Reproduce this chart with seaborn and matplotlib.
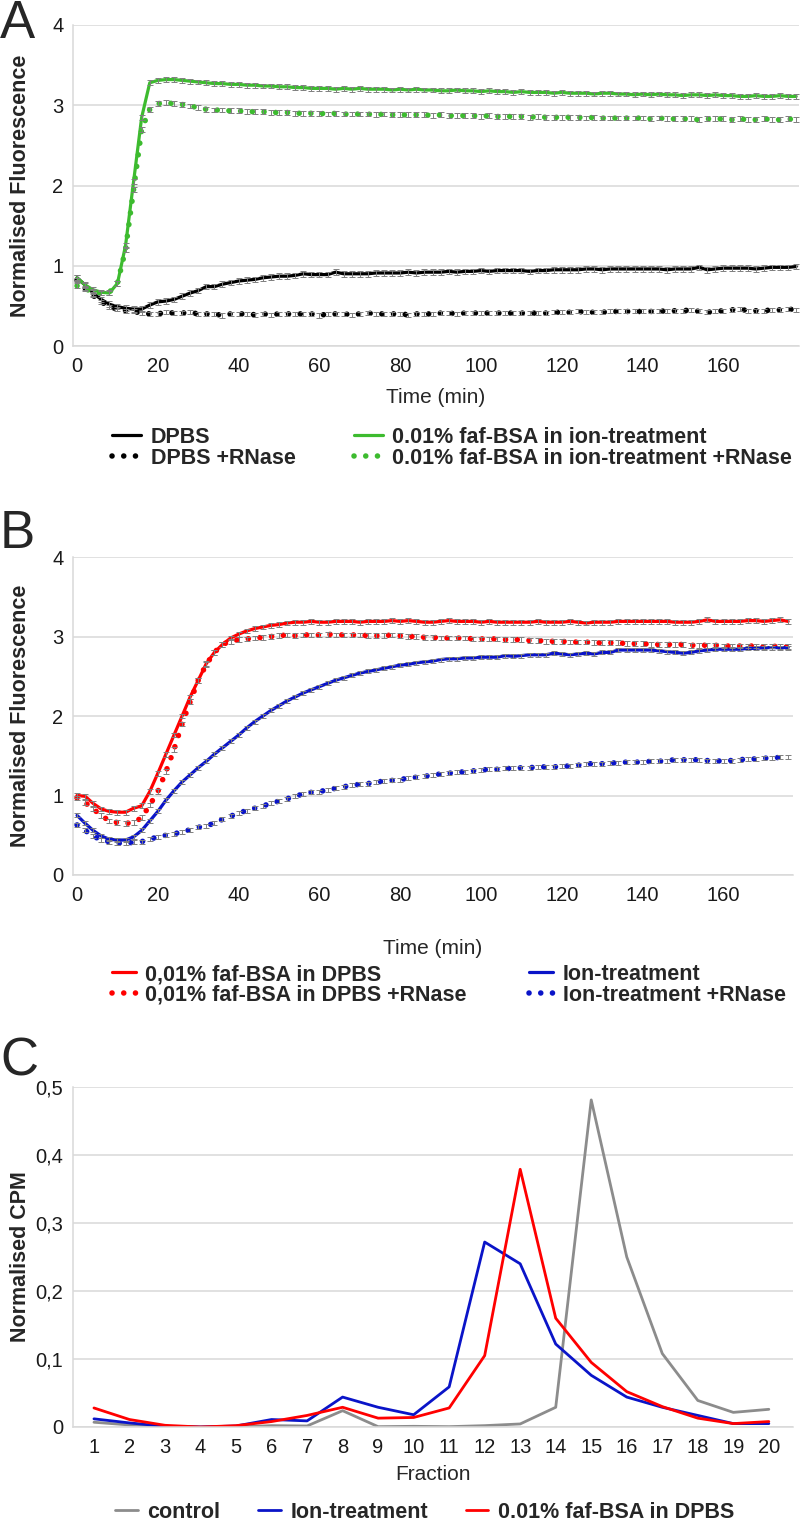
import matplotlib
matplotlib.use('Agg')
import matplotlib.pyplot as plt
import seaborn as sns

# time points (min), one reading every 2 min
time_a = list(range(0, 180, 2))
time_b = list(range(0, 178, 2))

# Panel A - normalised fluorescence
a_dpbs = [0.85, 0.76, 0.66, 0.58, 0.52, 0.49, 0.47, 0.46, 0.46, 0.51,
          0.55, 0.56, 0.58, 0.62, 0.66, 0.69, 0.74, 0.74, 0.77, 0.79,
          0.81, 0.82, 0.83, 0.85, 0.86, 0.87, 0.87, 0.88, 0.90, 0.89,
          0.89, 0.89, 0.92, 0.90, 0.90, 0.90, 0.90, 0.91, 0.91, 0.91,
          0.91, 0.92, 0.91, 0.92, 0.92, 0.92, 0.93, 0.92, 0.93, 0.93,
          0.94, 0.93, 0.94, 0.94, 0.94, 0.94, 0.93, 0.94, 0.94, 0.95,
          0.95, 0.95, 0.95, 0.96, 0.96, 0.95, 0.96, 0.96, 0.96, 0.96,
          0.96, 0.96, 0.96, 0.95, 0.96, 0.96, 0.96, 0.98, 0.95, 0.96,
          0.97, 0.97, 0.97, 0.97, 0.96, 0.97, 0.98, 0.98, 0.98, 0.99]
a_dpbs_rn = [0.82, 0.72, 0.63, 0.55, 0.49, 0.46, 0.44, 0.43, 0.41, 0.40,
             0.40, 0.42, 0.41, 0.41, 0.42, 0.40, 0.40, 0.40, 0.38, 0.40,
             0.40, 0.40, 0.39, 0.40, 0.39, 0.40, 0.40, 0.40, 0.40, 0.40,
             0.38, 0.40, 0.40, 0.40, 0.39, 0.40, 0.41, 0.40, 0.40, 0.40,
             0.40, 0.39, 0.40, 0.40, 0.40, 0.41, 0.41, 0.40, 0.41, 0.41,
             0.41, 0.41, 0.41, 0.41, 0.41, 0.41, 0.41, 0.41, 0.41, 0.42,
             0.42, 0.42, 0.43, 0.42, 0.42, 0.42, 0.43, 0.43, 0.43, 0.43,
             0.43, 0.43, 0.44, 0.43, 0.44, 0.44, 0.45, 0.43, 0.42, 0.43,
             0.44, 0.45, 0.46, 0.44, 0.44, 0.44, 0.45, 0.45, 0.46, 0.45]
a_bsa = [0.85, 0.76, 0.70, 0.67, 0.66, 0.78, 1.25, 2.05, 2.85, 3.28,
         3.31, 3.32, 3.32, 3.31, 3.30, 3.29, 3.28, 3.27, 3.27, 3.26,
         3.26, 3.25, 3.25, 3.24, 3.24, 3.23, 3.23, 3.22, 3.22, 3.21,
         3.21, 3.21, 3.20, 3.21, 3.20, 3.21, 3.20, 3.20, 3.20, 3.19,
         3.20, 3.19, 3.20, 3.19, 3.19, 3.18, 3.18, 3.19, 3.18, 3.18,
         3.17, 3.18, 3.17, 3.17, 3.16, 3.17, 3.16, 3.16, 3.16, 3.15,
         3.16, 3.15, 3.15, 3.15, 3.14, 3.15, 3.15, 3.14, 3.14, 3.13,
         3.14, 3.13, 3.14, 3.13, 3.13, 3.12, 3.13, 3.13, 3.12, 3.13,
         3.12, 3.12, 3.11, 3.11, 3.12, 3.11, 3.11, 3.12, 3.11, 3.11]
a_bsa_rn = [0.75, 0.71, 0.68, 0.66, 0.67, 0.78, 1.20, 1.95, 2.70, 2.95,
            3.02, 3.03, 3.02, 3.01, 2.99, 2.97, 2.95, 2.94, 2.94, 2.93,
            2.93, 2.92, 2.92, 2.92, 2.91, 2.91, 2.91, 2.90, 2.90, 2.90,
            2.90, 2.89, 2.90, 2.89, 2.89, 2.89, 2.89, 2.88, 2.89, 2.88,
            2.88, 2.88, 2.88, 2.88, 2.87, 2.88, 2.87, 2.87, 2.87, 2.87,
            2.86, 2.87, 2.86, 2.86, 2.86, 2.86, 2.85, 2.86, 2.85, 2.85,
            2.85, 2.85, 2.85, 2.84, 2.85, 2.84, 2.84, 2.84, 2.84, 2.84,
            2.84, 2.83, 2.84, 2.83, 2.83, 2.83, 2.83, 2.82, 2.83, 2.83,
            2.83, 2.82, 2.83, 2.82, 2.82, 2.83, 2.82, 2.82, 2.83, 2.82]

# Panel B - normalised fluorescence
b_bsa = [1.00, 0.99, 0.90, 0.83, 0.80, 0.79, 0.79, 0.84, 0.87, 1.05,
         1.28, 1.52, 1.76, 2.00, 2.24, 2.45, 2.66, 2.80, 2.90, 2.98,
         3.03, 3.07, 3.10, 3.12, 3.14, 3.15, 3.17, 3.18, 3.18, 3.19,
         3.18, 3.18, 3.19, 3.19, 3.19, 3.18, 3.19, 3.19, 3.19, 3.20,
         3.19, 3.20, 3.19, 3.18, 3.18, 3.19, 3.20, 3.19, 3.19, 3.19,
         3.18, 3.19, 3.18, 3.18, 3.18, 3.18, 3.18, 3.19, 3.18, 3.18,
         3.18, 3.19, 3.18, 3.17, 3.18, 3.18, 3.18, 3.19, 3.19, 3.19,
         3.19, 3.19, 3.19, 3.19, 3.18, 3.18, 3.18, 3.19, 3.21, 3.19,
         3.19, 3.19, 3.19, 3.20, 3.20, 3.19, 3.20, 3.21, 3.19]
b_bsa_rn = [0.97, 0.91, 0.83, 0.75, 0.68, 0.66, 0.65, 0.66, 0.72, 0.88,
            1.05, 1.30, 1.58, 1.90, 2.18, 2.45, 2.65, 2.80, 2.90, 2.94,
            2.96, 2.97, 2.98, 2.99, 3.00, 3.01, 3.02, 3.01, 3.02, 3.02,
            3.02, 3.03, 3.02, 3.02, 3.02, 3.02, 3.01, 3.01, 3.01, 3.02,
            3.01, 3.00, 3.00, 2.99, 2.99, 2.98, 2.98, 2.98, 2.98, 2.97,
            2.97, 2.97, 2.97, 2.96, 2.96, 2.96, 2.95, 2.95, 2.94, 2.94,
            2.94, 2.93, 2.93, 2.93, 2.92, 2.92, 2.92, 2.92, 2.91, 2.91,
            2.91, 2.90, 2.90, 2.90, 2.90, 2.90, 2.89, 2.89, 2.89, 2.89,
            2.88, 2.88, 2.88, 2.88, 2.88, 2.87, 2.88, 2.87, 2.87]
b_ion = [0.75, 0.65, 0.56, 0.49, 0.45, 0.44, 0.44, 0.48, 0.56, 0.68,
         0.80, 0.94, 1.06, 1.17, 1.26, 1.35, 1.43, 1.52, 1.60, 1.68,
         1.76, 1.85, 1.93, 2.00, 2.07, 2.13, 2.19, 2.24, 2.29, 2.33,
         2.37, 2.41, 2.45, 2.48, 2.51, 2.54, 2.56, 2.58, 2.60, 2.62,
         2.64, 2.65, 2.67, 2.68, 2.69, 2.71, 2.72, 2.72, 2.73, 2.73,
         2.74, 2.74, 2.74, 2.76, 2.75, 2.76, 2.77, 2.77, 2.77, 2.79,
         2.78, 2.77, 2.78, 2.79, 2.78, 2.80, 2.80, 2.83, 2.83, 2.83,
         2.83, 2.83, 2.82, 2.81, 2.80, 2.79, 2.80, 2.82, 2.83, 2.84,
         2.84, 2.84, 2.84, 2.85, 2.85, 2.86, 2.86, 2.86, 2.86]
b_ion_rn = [0.63, 0.56, 0.49, 0.44, 0.42, 0.40, 0.40, 0.41, 0.42, 0.45,
            0.48, 0.50, 0.52, 0.54, 0.57, 0.60, 0.62, 0.65, 0.70, 0.74,
            0.78, 0.81, 0.84, 0.87, 0.90, 0.93, 0.96, 0.99, 1.02, 1.04,
            1.05, 1.07, 1.09, 1.11, 1.13, 1.14, 1.15, 1.17, 1.18, 1.19,
            1.20, 1.22, 1.23, 1.24, 1.26, 1.27, 1.28, 1.29, 1.30, 1.31,
            1.32, 1.33, 1.33, 1.34, 1.34, 1.35, 1.35, 1.36, 1.36, 1.36,
            1.37, 1.37, 1.38, 1.40, 1.40, 1.40, 1.41, 1.41, 1.42, 1.42,
            1.42, 1.43, 1.43, 1.44, 1.45, 1.45, 1.45, 1.45, 1.44, 1.43,
            1.44, 1.44, 1.45, 1.46, 1.46, 1.47, 1.47, 1.48, 1.48]

# standard error of each series (same size at every time point)
err_a = {'dpbs': 0.035, 'dpbs_rn': 0.025, 'bsa': 0.03, 'bsa_rn': 0.03}
err_b = {'bsa': 0.03, 'bsa_rn': 0.03, 'ion': 0.025, 'ion_rn': 0.025}

# Panel C - normalised CPM per fraction
fractions = list(range(1, 21))
c_control = [0.007, 0.003, 0.001, 0.0, 0.0, 0.002, 0.0015, 0.024, 0.0005, 0.001,
             0.0005, 0.002, 0.0045, 0.029, 0.481, 0.250, 0.108, 0.039, 0.0215, 0.026]
c_ion = [0.012, 0.006, 0.001, 0.0, 0.0015, 0.011, 0.009, 0.044, 0.029, 0.018,
         0.059, 0.272, 0.240, 0.122, 0.076, 0.044, 0.029, 0.017, 0.005, 0.005]
c_bsa = [0.028, 0.011, 0.0025, 0.0, 0.002, 0.008, 0.017, 0.029, 0.013, 0.014,
         0.028, 0.105, 0.379, 0.160, 0.095, 0.052, 0.030, 0.013, 0.005, 0.008]
c_yticklabels = ['0', '0,1', '0,2', '0,3', '0,4', '0,5']

sns.set_style('whitegrid')
plt.rcParams['font.family'] = ['Liberation Sans', 'DejaVu Sans']

W, H = 800, 1524
fig = plt.figure(figsize=(W / 100, H / 100), dpi=100)

grid_col = '#d9d9d9'
err_col = '#7f7f7f'
green = '#3dbb2f'
dots = (0, (0.01, 2.1))


def px_axes(left, top, right, bottom):
    return fig.add_axes([left / W, 1 - bottom / H, (right - left) / W, (bottom - top) / H])


def style_axes(ax):
    ax.grid(axis='y', color=grid_col, lw=1.1)
    ax.grid(axis='x', visible=False)
    for s in ['top', 'right']:
        ax.spines[s].set_visible(False)
    for s in ['left', 'bottom']:
        ax.spines[s].set_color(grid_col)
        ax.spines[s].set_linewidth(1.1)
    ax.tick_params(length=0, labelsize=14.5, colors='#1a1a1a')
    ax.tick_params(axis='y', pad=7)
    ax.tick_params(axis='x', pad=8)


def draw(ax, x, y, err, color, label, dotted=False, lw=2.3):
    if dotted:
        sns.lineplot(x=x, y=y, ax=ax, color=color, lw=4.0, linestyle=dots,
                     dash_capstyle='round', label=label, zorder=3)
    else:
        sns.lineplot(x=x, y=y, ax=ax, color=color, lw=lw, label=label, zorder=3)
    ax.errorbar(x, y, yerr=err, fmt='none', ecolor=err_col, elinewidth=0.7,
                capsize=2.0, capthick=0.7, zorder=4)


def put_legend(ax, order, x, y, ncol, handlelength, columnspacing):
    handles, labels = ax.get_legend_handles_labels()
    if ax.get_legend() is not None:
        ax.get_legend().remove()
    lookup = dict(zip(labels, handles))
    fig.legend([lookup[l] for l in order], order, loc='center left',
               bbox_to_anchor=(x / W, 1 - y / H), ncol=ncol, frameon=False,
               prop={'weight': 'bold', 'size': 15.5}, handlelength=handlelength,
               handletextpad=0.45, columnspacing=columnspacing, labelspacing=0.0,
               borderpad=0, borderaxespad=0)


# ---------- A ----------
axA = px_axes(73, 25, 799, 346)
draw(axA, time_a, a_dpbs, err_a['dpbs'], 'black', 'DPBS')
draw(axA, time_a, a_dpbs_rn, err_a['dpbs_rn'], 'black', 'DPBS +RNase', dotted=True)
draw(axA, time_a, a_bsa, err_a['bsa'], green, '0.01% faf-BSA in ion-treatment')
draw(axA, time_a, a_bsa_rn, err_a['bsa_rn'], green, '0.01% faf-BSA in ion-treatment +RNase', dotted=True)
axA.set_xlim(-1, 178.7)
axA.set_ylim(0, 4)
axA.set_xticks(range(0, 180, 20))
axA.set_yticks([0, 1, 2, 3, 4])
style_axes(axA)
axA.set_xlabel('Time (min)', fontsize=15)
axA.xaxis.set_label_coords(0.5, -0.131)
axA.set_ylabel('Normalised Fluorescence', fontsize=15.5, fontweight='bold')
axA.yaxis.set_label_coords(-0.058, 0.5)
put_legend(axA, ['DPBS', 'DPBS +RNase', '0.01% faf-BSA in ion-treatment',
                 '0.01% faf-BSA in ion-treatment +RNase'],
           112, 448, 2, 1.35, 2.7)

# ---------- B ----------
axB = px_axes(73, 557, 793, 875)
draw(axB, time_b, b_bsa, err_b['bsa'], 'red', '0,01% faf-BSA in DPBS')
draw(axB, time_b, b_bsa_rn, err_b['bsa_rn'], 'red', '0,01% faf-BSA in DPBS +RNase', dotted=True)
draw(axB, time_b, b_ion, err_b['ion'], '#0a14c8', 'Ion-treatment')
draw(axB, time_b, b_ion_rn, err_b['ion_rn'], '#0a14c8', 'Ion-treatment +RNase', dotted=True)
axB.set_xlim(-1, 177.2)
axB.set_ylim(0, 4)
axB.set_xticks(range(0, 180, 20))
axB.set_yticks([0, 1, 2, 3, 4])
style_axes(axB)
axB.set_xlabel('Time (min)', fontsize=15)
axB.xaxis.set_label_coords(0.5, -0.2)
axB.set_ylabel('Normalised Fluorescence', fontsize=15.5, fontweight='bold')
axB.yaxis.set_label_coords(-0.058, 0.5)
put_legend(axB, ['0,01% faf-BSA in DPBS', '0,01% faf-BSA in DPBS +RNase',
                 'Ion-treatment', 'Ion-treatment +RNase'],
           112, 985, 2, 1.1, 2.9)

# ---------- C ----------
axC = px_axes(73, 1087, 793, 1427)
sns.lineplot(x=fractions, y=c_control, ax=axC, color='#8c8c8c', lw=2.0, label='control')
sns.lineplot(x=fractions, y=c_ion, ax=axC, color='#0a14c8', lw=2.0, label='Ion-treatment')
sns.lineplot(x=fractions, y=c_bsa, ax=axC, color='red', lw=2.0, label='0.01% faf-BSA in DPBS')
axC.set_xlim(0.41, 20.68)
axC.set_ylim(0, 0.5)
axC.set_xticks(fractions)
axC.set_yticks([0, 0.1, 0.2, 0.3, 0.4, 0.5])
axC.set_yticklabels(c_yticklabels)
style_axes(axC)
axC.set_xlabel('Fraction', fontsize=15)
axC.xaxis.set_label_coords(0.5, -0.112)
axC.set_ylabel('Normalised CPM', fontsize=15.5, fontweight='bold')
axC.yaxis.set_label_coords(-0.058, 0.5)
put_legend(axC, ['control', 'Ion-treatment', '0.01% faf-BSA in DPBS'],
           115, 1512, 3, 1.05, 1.75)

# panel letters
for letter, base in [('A', 38), ('B', 548), ('C', 1076)]:
    fig.text(0, 1 - base / H, letter, fontsize=38, va='baseline', ha='left')

fig.savefig('out.png', dpi=100)
